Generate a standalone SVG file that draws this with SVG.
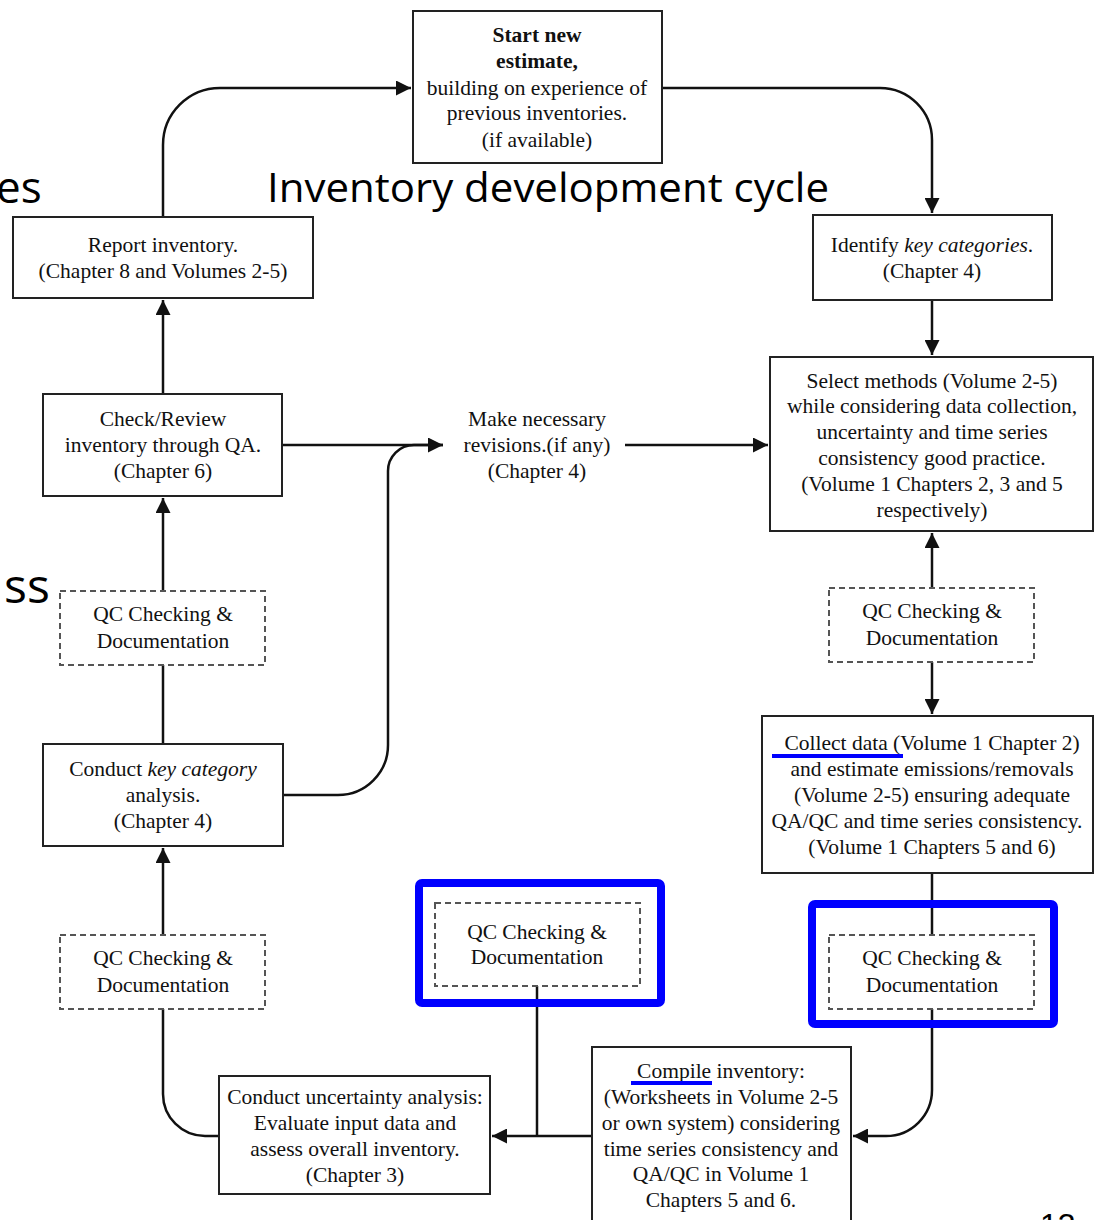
<svg xmlns="http://www.w3.org/2000/svg" width="1095" height="1220" viewBox="0 0 1095 1220">
<defs>
<style>
.box{fill:#fff;stroke:#222;stroke-width:2}
.qc{fill:#fff;stroke:#555;stroke-width:2;stroke-dasharray:6 4}
.hl{fill:none;stroke:#0000ff;stroke-width:8}
.ul{stroke:#0000ff;stroke-width:4}
.t{font-family:"Liberation Serif","Times New Roman",serif;font-size:21.5px;fill:#111;text-anchor:middle}
.b{font-weight:bold}
.i{font-style:italic}
.big{font-family:"Open Sans","Liberation Sans",sans-serif;font-size:40px;fill:#000}
.ln{fill:none;stroke:#111;stroke-width:2.5}
</style>
<marker id="ah" viewBox="0 0 10 10" refX="10" refY="5" markerWidth="6" markerHeight="6" orient="auto" markerUnits="strokeWidth">
<path d="M0,0 L10,5 L0,10 z" fill="#111"/>
</marker>
</defs>
<rect width="1095" height="1220" fill="#fff"/>

<g id="overlay">
<text class="big" x="-4" y="203" style="font-size:44px">es</text>
<text class="big" x="4" y="603" style="font-size:48px">ss</text>
<text class="big" x="267" y="202" textLength="562" lengthAdjust="spacingAndGlyphs">Inventory development cycle</text>
<text x="1040" y="1236" style="font-family:'Liberation Sans',Arial,sans-serif;font-size:32px;fill:#000">13</text>
</g>

<g id="connectors">
<path class="ln" d="M163,217 V145 A57,57 0 0 1 220,88 H411" marker-end="url(#ah)"/>
<path class="ln" d="M662,88 H880 A52,52 0 0 1 932,140 V213" marker-end="url(#ah)"/>
<path class="ln" d="M932,300 V355" marker-end="url(#ah)"/>
<path class="ln" d="M932,588 V533" marker-end="url(#ah)"/>
<path class="ln" d="M932,662 V714" marker-end="url(#ah)"/>
<path class="ln" d="M932,873 V935"/>
<path class="ln" d="M932,1009 V1090 A46,46 0 0 1 886,1136 H853" marker-end="url(#ah)"/>
<path class="ln" d="M592,1136 H492" marker-end="url(#ah)"/>
<path class="ln" d="M537,986 V1136"/>
<path class="ln" d="M219,1136 H205 A42,42 0 0 1 163,1094 V1009"/>
<path class="ln" d="M163,935 V848" marker-end="url(#ah)"/>
<path class="ln" d="M163,744 V665"/>
<path class="ln" d="M163,591 V498" marker-end="url(#ah)"/>
<path class="ln" d="M163,394 V300" marker-end="url(#ah)"/>
<path class="ln" d="M282,445 H443" marker-end="url(#ah)"/>
<path class="ln" d="M283,795 H338 A50,50 0 0 0 388,745 V471 A26,26 0 0 1 414,445 H443"/>
<path class="ln" d="M625,445 H768" marker-end="url(#ah)"/>
</g>

<g id="start">
<rect class="box" x="413" y="11" width="249" height="152"/>
<text class="t b" x="537" y="42">Start new</text>
<text class="t b" x="537" y="68">estimate,</text>
<text class="t" x="537" y="95">building on experience of</text>
<text class="t" x="537" y="120">previous inventories.</text>
<text class="t" x="537" y="147">(if available)</text>
</g>

<g id="report">
<rect class="box" x="13" y="217" width="300" height="81"/>
<text class="t" x="163" y="252">Report inventory.</text>
<text class="t" x="163" y="278">(Chapter 8 and Volumes 2-5)</text>
</g>

<g id="identify">
<rect class="box" x="813" y="215" width="239" height="85"/>
<text class="t" x="932" y="252">Identify <tspan class="i">key categories</tspan>.</text>
<text class="t" x="932" y="278">(Chapter 4)</text>
</g>

<g id="select">
<rect class="box" x="770" y="357" width="323" height="174"/>
<text class="t" x="932" y="388">Select methods (Volume 2-5)</text>
<text class="t" x="932" y="413">while considering data collection,</text>
<text class="t" x="932" y="439">uncertainty and time series</text>
<text class="t" x="932" y="465">consistency good practice.</text>
<text class="t" x="932" y="491">(Volume 1 Chapters 2, 3 and 5</text>
<text class="t" x="932" y="517">respectively)</text>
</g>

<g id="check">
<rect class="box" x="43" y="394" width="239" height="102"/>
<text class="t" x="163" y="426">Check/Review</text>
<text class="t" x="163" y="452">inventory through QA.</text>
<text class="t" x="163" y="478">(Chapter 6)</text>
</g>

<g id="revisions">
<text class="t" x="537" y="426">Make necessary</text>
<text class="t" x="537" y="452">revisions.(if any)</text>
<text class="t" x="537" y="478">(Chapter 4)</text>
</g>

<g id="qc-left-upper">
<rect class="qc" x="60" y="591" width="205" height="74"/>
<text class="t" x="163" y="621">QC Checking &amp;</text>
<text class="t" x="163" y="648">Documentation</text>
</g>

<g id="qc-right-upper">
<rect class="qc" x="829" y="588" width="205" height="74"/>
<text class="t" x="932" y="618">QC Checking &amp;</text>
<text class="t" x="932" y="645">Documentation</text>
</g>

<g id="key-analysis">
<rect class="box" x="43" y="744" width="240" height="102"/>
<text class="t" x="163" y="776">Conduct <tspan class="i">key category</tspan></text>
<text class="t" x="163" y="802">analysis.</text>
<text class="t" x="163" y="828">(Chapter 4)</text>
</g>

<g id="collect">
<rect class="box" x="762" y="716" width="331" height="157"/>
<text class="t" x="932" y="750">Collect data (Volume 1 Chapter 2)</text>
<text class="t" x="932" y="776">and estimate emissions/removals</text>
<text class="t" x="932" y="802">(Volume 2-5) ensuring adequate</text>
<text class="t" x="927" y="828">QA/QC and time series consistency.</text>
<text class="t" x="932" y="854">(Volume 1 Chapters 5 and 6)</text>
<line class="ul" x1="772" y1="756" x2="903" y2="756"/>
</g>

<g id="qc-left-lower">
<rect class="qc" x="60" y="935" width="205" height="74"/>
<text class="t" x="163" y="965">QC Checking &amp;</text>
<text class="t" x="163" y="992">Documentation</text>
</g>

<g id="qc-middle">
<rect class="hl" x="419" y="883" width="242" height="120" rx="3"/>
<rect class="qc" x="435" y="903" width="205" height="83"/>
<text class="t" x="537" y="939">QC Checking &amp;</text>
<text class="t" x="537" y="964">Documentation</text>
</g>

<g id="qc-right-lower">
<rect class="hl" x="812" y="904" width="242" height="120" rx="3"/>
<rect class="qc" x="829" y="935" width="205" height="74"/>
<text class="t" x="932" y="965">QC Checking &amp;</text>
<text class="t" x="932" y="992">Documentation</text>
</g>

<g id="uncertainty">
<rect class="box" x="219" y="1076" width="271" height="118"/>
<text class="t" x="355" y="1104">Conduct uncertainty analysis:</text>
<text class="t" x="355" y="1130">Evaluate input data and</text>
<text class="t" x="355" y="1156">assess overall inventory.</text>
<text class="t" x="355" y="1182">(Chapter 3)</text>
</g>

<g id="compile">
<rect class="box" x="592" y="1047" width="259" height="200"/>
<text class="t" x="721" y="1078">Compile inventory:</text>
<text class="t" x="721" y="1104">(Worksheets in Volume 2-5</text>
<text class="t" x="721" y="1130">or own system) considering</text>
<text class="t" x="721" y="1156">time series consistency and</text>
<text class="t" x="721" y="1181">QA/QC in Volume 1</text>
<text class="t" x="721" y="1207">Chapters 5 and 6.</text>
<line class="ul" x1="631" y1="1083" x2="712" y2="1083"/>
</g>
</svg>
